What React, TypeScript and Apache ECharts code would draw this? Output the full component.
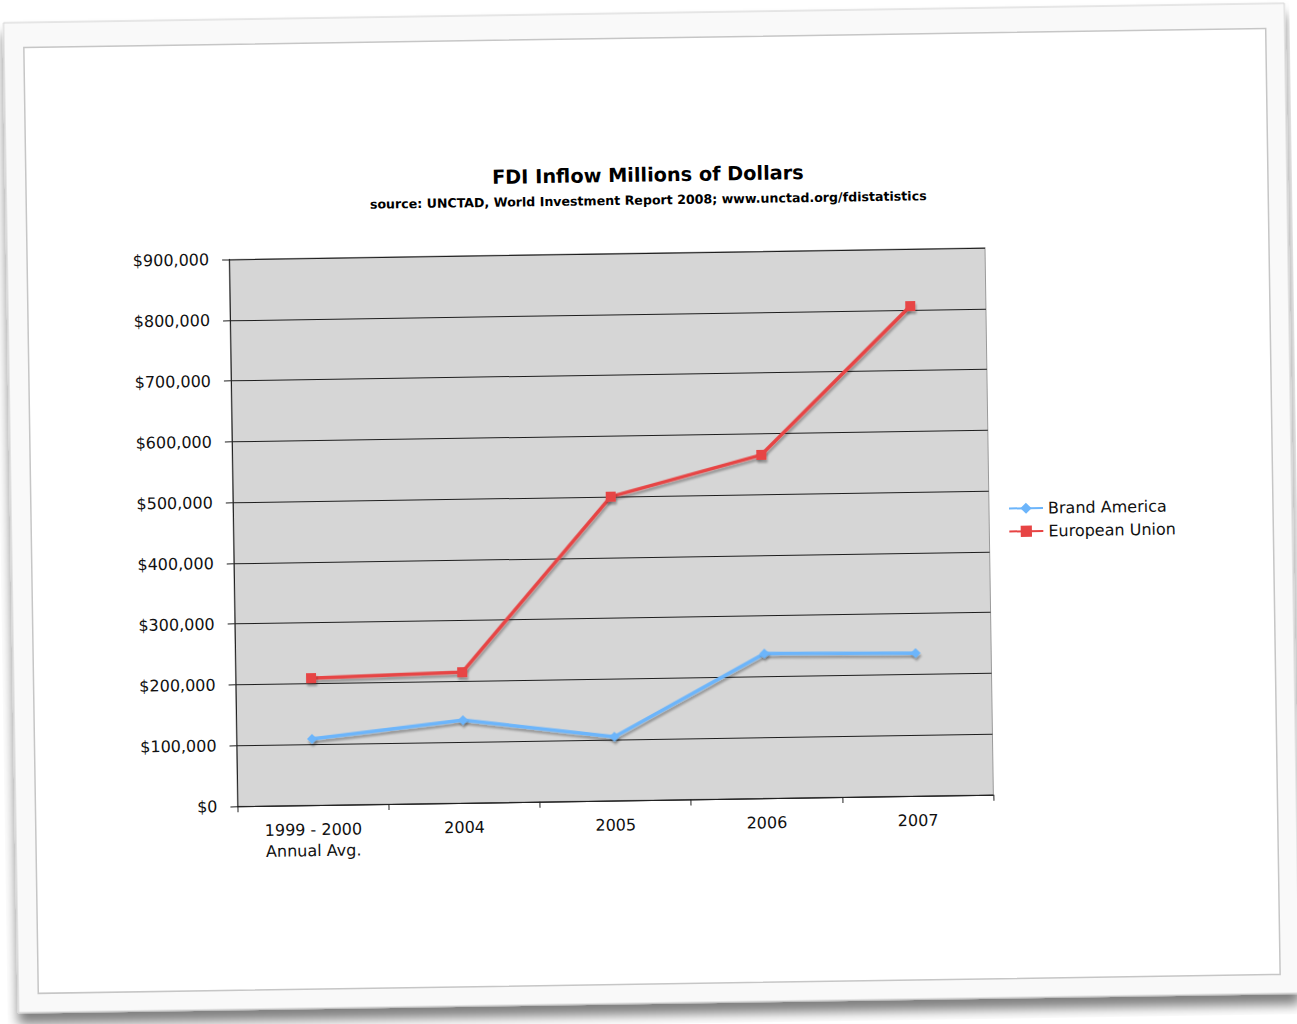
import React, { useEffect, useRef } from "react";
import * as echarts from "echarts";

const categories = ["1999 - 2000\nAnnual Avg.", "2004", "2005", "2006", "2007"];
const brandAmerica = [109000, 136000, 105000, 238000, 235000];
const europeanUnion = [209000, 215000, 500000, 565000, 806000];
const seriesNames = ["Brand America", "European Union"];
const yMin = 0;
const yMax = 900000;
const yStep = 100000;
const titleText = "FDI Inflow Millions of Dollars";
const subtitleText = "source: UNCTAD, World Investment Report 2008; www.unctad.org/fdistatistics";

const FONT = "'DejaVu Sans', Verdana, sans-serif";

export default function App() {
  const ref = useRef<HTMLDivElement>(null);

  useEffect(() => {
    if (!ref.current) return;
    const chart = echarts.init(ref.current, undefined, { renderer: "svg" });
    const shadow = {
      shadowColor: "rgba(0,0,0,0.3)",
      shadowBlur: 2,
      shadowOffsetX: 1,
      shadowOffsetY: 3,
    };
    chart.setOption({
      animation: false,
      backgroundColor: "transparent",
      graphic: [
        {
          type: "rect",
          z: -20,
          shape: { x: 11, y: 13, width: 1281, height: 990 },
          style: {
            fill: "#f9f9f9",
            stroke: "#d0d0d0",
            lineWidth: 1,
            shadowColor: "rgba(0,0,0,0.5)",
            shadowBlur: 12,
            shadowOffsetY: 11,
          },
        },
        {
          type: "rect",
          z: -19,
          shape: { x: 31, y: 38, width: 1242, height: 946 },
          style: {
            fill: "#ffffff",
            stroke: "#c6c6c6",
            lineWidth: 1.5,
          },
        },
        {
          type: "text",
          x: 653,
          y: 175,
          style: {
            text: titleText,
            fontFamily: FONT,
            fontSize: 19.3,
            lineHeight: 19,
            fontWeight: "bold",
            fill: "#000",
            align: "center",
            verticalAlign: "middle",
          },
        },
        {
          type: "text",
          x: 653,
          y: 200,
          style: {
            text: subtitleText,
            fontFamily: FONT,
            fontSize: 12.6,
            lineHeight: 13,
            fontWeight: "bold",
            fill: "#000",
            align: "center",
            verticalAlign: "middle",
          },
        },
      ],
      grid: {
        left: 233,
        top: 253,
        width: 756,
        height: 547,
        show: true,
        backgroundColor: "#d6d6d6",
        borderColor: "#9a9a9a",
        borderWidth: 1,
      },
      legend: {
        orient: "vertical",
        left: 1008,
        top: 506,
        padding: 0,
        itemWidth: 34,
        itemHeight: 14,
        itemGap: 7,
        data: seriesNames,
        textStyle: { fontFamily: FONT, fontSize: 16, color: "#111" },
      },
      xAxis: {
        type: "category",
        data: categories,
        boundaryGap: true,
        axisLine: { show: true, lineStyle: { color: "#222", width: 1 } },
        axisTick: { show: true, length: 6, lineStyle: { color: "#222" } },
        axisLabel: {
          interval: 0,
          fontFamily: FONT,
          fontSize: 16,
          color: "#111",
          margin: 14,
          lineHeight: 21,
        },
        splitLine: { show: false },
      },
      yAxis: {
        type: "value",
        min: yMin,
        max: yMax,
        interval: yStep,
        axisLine: { show: true, lineStyle: { color: "#222", width: 1 } },
        axisTick: { show: true, length: 7, lineStyle: { color: "#222" } },
        axisLabel: {
          fontFamily: FONT,
          fontSize: 16,
          color: "#111",
          margin: 20,
          formatter: (v: number) => "$" + v.toLocaleString("en-US"),
        },
        splitLine: { show: true, lineStyle: { color: "#1e1e1e", width: 1 } },
      },
      series: [
        {
          name: seriesNames[0],
          type: "line",
          data: brandAmerica,
          symbol: "diamond",
          symbolSize: 10,
          lineStyle: { color: "#6cb5fb", width: 3.5, ...shadow },
          itemStyle: { color: "#6cb5fb", ...shadow },
        },
        {
          name: seriesNames[1],
          type: "line",
          data: europeanUnion,
          symbol: "rect",
          symbolSize: 10,
          lineStyle: { color: "#e74444", width: 3.5, ...shadow },
          itemStyle: { color: "#e74444", ...shadow },
        },
      ],
    });
    return () => chart.dispose();
  }, []);

  return (
    <div
      style={{
        position: "fixed",
        left: 0,
        top: 0,
        width: 1297,
        height: 1024,
        overflow: "hidden",
        background: "#ffffff",
      }}
    >
      <div
        ref={ref}
        style={{
          position: "absolute",
          left: 0,
          top: 0,
          width: 1297,
          height: 1024,
          transform: "rotate(-0.875deg)",
          transformOrigin: "50% 50%",
        }}
      />
    </div>
  );
}
